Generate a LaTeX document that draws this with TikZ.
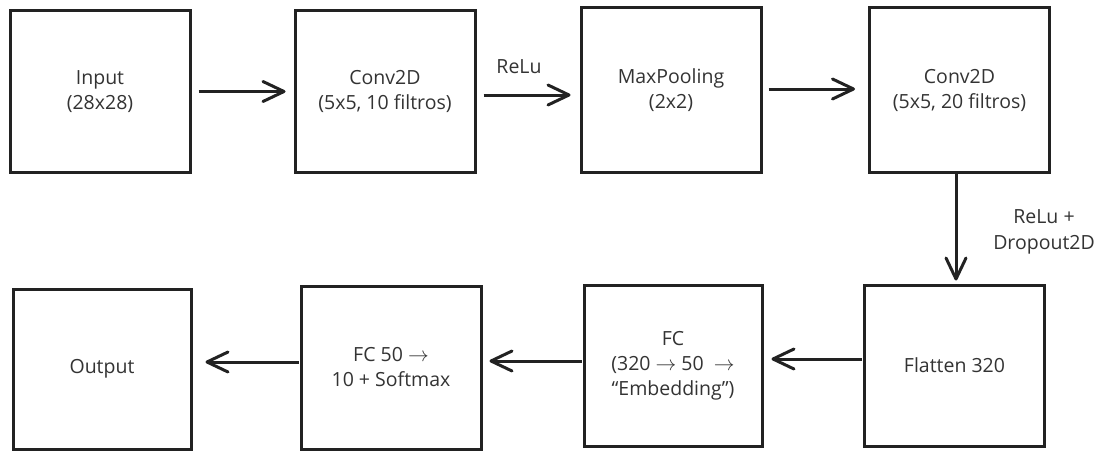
\documentclass[tikz,border=0pt]{standalone}
\usepackage{fontspec}
\setmainfont{Open Sans}
\usetikzlibrary{arrows.meta}
\definecolor{txt}{HTML}{333333}
\definecolor{ln}{HTML}{222222}
\tikzset{
  box/.style={draw=ln, line width=3pt, minimum width=180pt, minimum height=161pt,
    inner sep=0pt, align=center, text=txt, font=\fontsize{19.5}{25}\selectfont},
  arr/.style={draw=ln, line width=3pt, -{Straight Barb[length=21pt, width=20pt, line width=3pt, round]}},
  lbl/.style={text=txt, align=center, font=\fontsize{19.5}{26}\selectfont, inner sep=0pt},
}
\begin{document}
\begin{tikzpicture}[x=1pt, y=-1pt]
\useasboundingbox (0,0) rectangle (1102,452);
\node[box] (b1) at (100,91.5) {Input\\(28x28)};
\node[box] (b2) at (385,91.5) {Conv2D\\(5x5, 10 filtros)};
\node[box, minimum height=164pt] (b3) at (671,90) {MaxPooling\\(2x2)};
\node[box, minimum height=164pt] (b4) at (959.5,90) {Conv2D\\(5x5, 20 filtros)};
\node[box] (b8) at (954.5,365.5) {Flatten 320};
\node[box, minimum width=178pt] (b7) at (673,365.5) {FC\\(320 $\rightarrow$ 50 \ $\rightarrow$\\“Embedding”)};
\node[box, minimum height=163pt] (b6) at (391,367.5) {FC 50 $\rightarrow$\\10 + Softmax};
\node[box, minimum width=178pt, minimum height=160pt] (b5) at (102,369) {Output};

\draw[arr, shorten <=7pt, shorten >=8pt] (b1.east) -- (b2.west);
\draw[arr, shorten <=7pt, shorten >=9pt] ([yshift=-3.5pt]b2.east) -- ([yshift=-3.5pt]b2.east -| b3.west);
\draw[arr, shorten <=6pt, shorten >=13pt] ([yshift=1pt]b3.east) -- ([yshift=1pt]b3.east -| b4.west);
\draw[arr, shorten >=3pt] ([xshift=-3.5pt]b4.south) -- ([xshift=-3.5pt]b4.south |- b8.north);
\draw[arr, shorten <=1pt, shorten >=8pt] ([yshift=6.5pt]b8.west) -- ([yshift=6.5pt]b8.west -| b7.east);
\draw[arr, shorten <=1pt, shorten >=7pt] ([yshift=4.5pt]b7.west) -- ([yshift=4.5pt]b7.west -| b6.east);
\draw[arr, shorten <=1pt, shorten >=13pt] ([yshift=5.5pt]b6.west) -- ([yshift=5.5pt]b6.west -| b5.east);

\node[lbl] (l1) at (519,67) {ReLu};
\node[lbl] (l2) at (1044,232) {ReLu +\\Dropout2D};
\end{tikzpicture}
\end{document}
